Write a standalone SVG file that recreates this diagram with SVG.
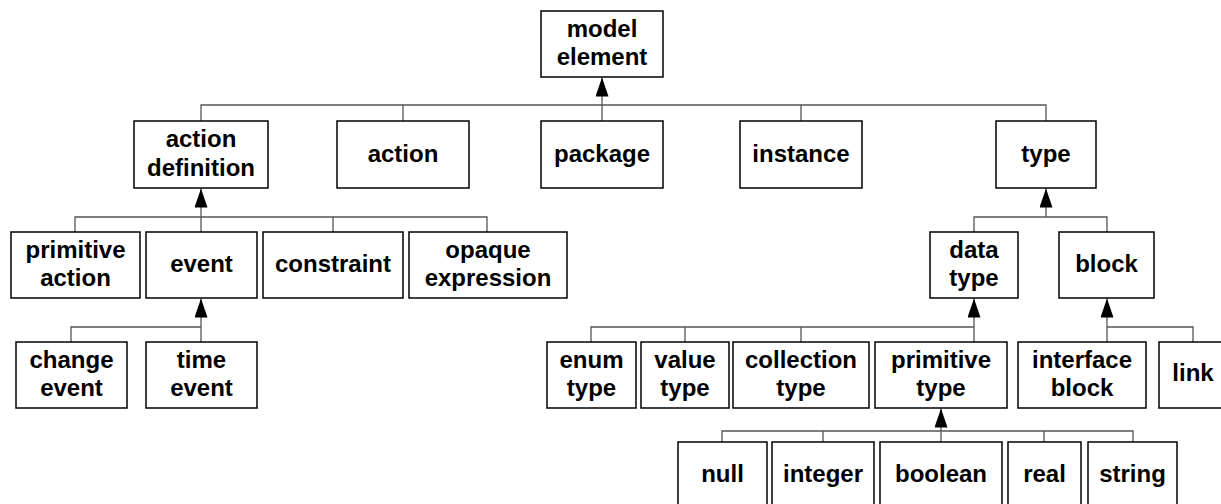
<svg xmlns="http://www.w3.org/2000/svg" width="1221" height="504" viewBox="0 0 1221 504">
<style>
.box{fill:#fff;stroke:#000;stroke-width:1.5}
.lbl{font-family:"Liberation Sans",Arial,sans-serif;font-weight:bold;font-size:24px;fill:#000;text-anchor:middle}
.con{fill:none;stroke:#555;stroke-width:1.3}
</style>
<defs>
<marker id="tri" markerUnits="userSpaceOnUse" markerWidth="19" markerHeight="13" viewBox="0 0 19 13" refX="19" refY="6.5" orient="auto">
<path d="M0,0 L19,6.5 L0,13 Z" fill="#000"/>
</marker>
</defs>
<rect width="1221" height="504" fill="#fff"/>
<g id="connectors">
<!-- model element children -->
<path class="con" d="M201,121 V105 H1046 V121 M403,121 V105 M801,121 V105"/>
<path class="con" d="M602,121 V77.5" marker-end="url(#tri)"/>
<!-- action definition children -->
<path class="con" d="M75,232 V217 H487 V232 M333,232 V217"/>
<path class="con" d="M201,232 V188.5" marker-end="url(#tri)"/>
<!-- event children -->
<path class="con" d="M71,342 V327 H201"/>
<path class="con" d="M201,342 V298.5" marker-end="url(#tri)"/>
<!-- type children -->
<path class="con" d="M974,232 V217 H1107 V232"/>
<path class="con" d="M1046,217 V188.5" marker-end="url(#tri)"/>
<!-- data type children -->
<path class="con" d="M591,342 V327 H974 M685,342 V327 M801,342 V327"/>
<path class="con" d="M974,342 V298.5" marker-end="url(#tri)"/>
<!-- block children -->
<path class="con" d="M1107,327 H1193 V342"/>
<path class="con" d="M1107,342 V298.5" marker-end="url(#tri)"/>
<!-- primitive type children -->
<path class="con" d="M722,442 V431 H1133 V442 M823,442 V431 M1044,442 V431"/>
<path class="con" d="M941,442 V408.5" marker-end="url(#tri)"/>
</g>
<g id="model-element"><rect class="box" x="541" y="11" width="122" height="66"/><text class="lbl" x="602" y="37">model</text><text class="lbl" x="602" y="65">element</text></g>
<g id="action-definition"><rect class="box" x="134" y="121" width="134" height="67"/><text class="lbl" x="201" y="147">action</text><text class="lbl" x="201" y="176">definition</text></g>
<g id="action"><rect class="box" x="337" y="121" width="132" height="67"/><text class="lbl" x="403" y="162">action</text></g>
<g id="package"><rect class="box" x="541" y="121" width="122" height="67"/><text class="lbl" x="602" y="162">package</text></g>
<g id="instance"><rect class="box" x="740" y="121" width="122" height="67"/><text class="lbl" x="801" y="162">instance</text></g>
<g id="type"><rect class="box" x="996" y="121" width="100" height="67"/><text class="lbl" x="1046" y="162">type</text></g>
<g id="primitive-action"><rect class="box" x="11" y="232" width="129" height="66"/><text class="lbl" x="75.5" y="258">primitive</text><text class="lbl" x="75.5" y="286">action</text></g>
<g id="event"><rect class="box" x="146" y="232" width="111" height="66"/><text class="lbl" x="201.5" y="272">event</text></g>
<g id="constraint"><rect class="box" x="263" y="232" width="140" height="66"/><text class="lbl" x="333" y="272">constraint</text></g>
<g id="opaque-expression"><rect class="box" x="409" y="232" width="158" height="66"/><text class="lbl" x="488" y="258">opaque</text><text class="lbl" x="488" y="286">expression</text></g>
<g id="change-event"><rect class="box" x="16" y="342" width="111" height="66"/><text class="lbl" x="71.5" y="368">change</text><text class="lbl" x="71.5" y="396">event</text></g>
<g id="time-event"><rect class="box" x="146" y="342" width="111" height="66"/><text class="lbl" x="201.5" y="368">time</text><text class="lbl" x="201.5" y="396">event</text></g>
<g id="data-type"><rect class="box" x="930" y="232" width="88" height="66"/><text class="lbl" x="974" y="258">data</text><text class="lbl" x="974" y="286">type</text></g>
<g id="block"><rect class="box" x="1059" y="232" width="95" height="66"/><text class="lbl" x="1106.5" y="272">block</text></g>
<g id="enum-type"><rect class="box" x="547" y="342" width="89" height="66"/><text class="lbl" x="591.5" y="368">enum</text><text class="lbl" x="591.5" y="396">type</text></g>
<g id="value-type"><rect class="box" x="641" y="342" width="88" height="66"/><text class="lbl" x="685" y="368">value</text><text class="lbl" x="685" y="396">type</text></g>
<g id="collection-type"><rect class="box" x="733" y="342" width="136" height="66"/><text class="lbl" x="801" y="368">collection</text><text class="lbl" x="801" y="396">type</text></g>
<g id="primitive-type"><rect class="box" x="875" y="342" width="132" height="66"/><text class="lbl" x="941" y="368">primitive</text><text class="lbl" x="941" y="396">type</text></g>
<g id="interface-block"><rect class="box" x="1018" y="342" width="128" height="66"/><text class="lbl" x="1082" y="368">interface</text><text class="lbl" x="1082" y="396">block</text></g>
<g id="link"><rect class="box" x="1159" y="342" width="68" height="66"/><text class="lbl" x="1193" y="381">link</text></g>
<g id="null"><rect class="box" x="678" y="442" width="89" height="66"/><text class="lbl" x="722.5" y="482">null</text></g>
<g id="integer"><rect class="box" x="772" y="442" width="102" height="66"/><text class="lbl" x="823" y="482">integer</text></g>
<g id="boolean"><rect class="box" x="880" y="442" width="122" height="66"/><text class="lbl" x="941" y="482">boolean</text></g>
<g id="real"><rect class="box" x="1008" y="442" width="73" height="66"/><text class="lbl" x="1044.5" y="482">real</text></g>
<g id="string"><rect class="box" x="1088" y="442" width="89" height="66"/><text class="lbl" x="1132.5" y="482">string</text></g>
</svg>
